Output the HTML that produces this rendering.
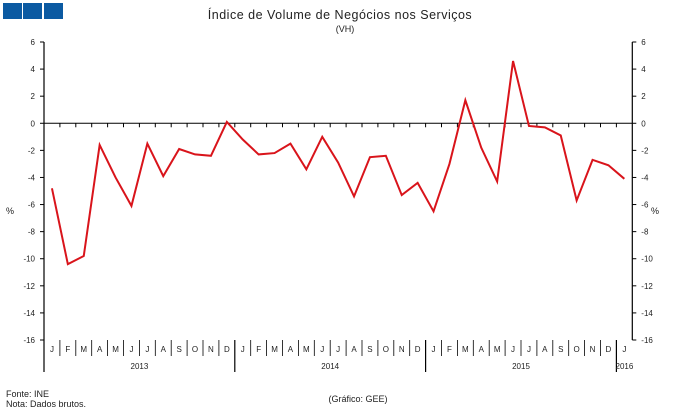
<!DOCTYPE html>
<html><head><meta charset="utf-8"><style>
body{margin:0;background:#fff;}
svg{display:block;font-family:"Liberation Sans",sans-serif;}
</style></head><body>
<svg id="c" width="679" height="414">
<rect x="3" y="3" width="19" height="16" fill="#0b5aa2"/>
<rect x="23" y="3" width="19" height="16" fill="#0b5aa2"/>
<rect x="44" y="3" width="19" height="16" fill="#0b5aa2"/>
<text x="340" y="19" text-anchor="middle" font-size="12.5" fill="#222" letter-spacing="0.5">Índice de Volume de Negócios nos Serviços</text>
<text x="345" y="32" text-anchor="middle" font-size="9" fill="#222">(VH)</text>
<text x="10" y="214" text-anchor="middle" font-size="9" fill="#222">%</text>
<text x="655" y="214" text-anchor="middle" font-size="9" fill="#222">%</text>
<text x="6" y="397" font-size="9" fill="#222">Fonte: INE</text>
<text x="6" y="407" font-size="9" fill="#222">Nota: Dados brutos.</text>
<text x="358" y="402" text-anchor="middle" font-size="9" fill="#222">(Gráfico: GEE)</text>
<g id="g"></g>
</svg>
<script>
const months=["J","F","M","A","M","J","J","A","S","O","N","D","J","F","M","A","M","J","J","A","S","O","N","D","J","F","M","A","M","J","J","A","S","O","N","D","J"];
const years=["2013","2014","2015","2016"];
const values=[-4.8,-10.4,-9.8,-1.6,-4.0,-6.1,-1.5,-3.9,-1.9,-2.3,-2.4,0.1,
-1.2,-2.3,-2.2,-1.5,-3.4,-1.0,-2.9,-5.4,-2.5,-2.4,-5.3,-4.4,
-6.5,-3.0,1.7,-1.8,-4.3,4.6,-0.2,-0.3,-0.9,-5.7,-2.7,-3.1,-4.1];
const yTicks=[6,4,2,0,-2,-4,-6,-8,-10,-12,-14,-16];
const NS="http://www.w3.org/2000/svg";
const g=document.getElementById("g");
const x0=44,step=15.9,yTop=42,yBot=340,yMax=6,yMin=-16;
const xs=i=>x0+step*(i+0.5);
const xb=i=>x0+step*i;
const ys=v=>yTop+(yMax-v)/(yMax-yMin)*(yBot-yTop);
function el(t,a){const e=document.createElementNS(NS,t);for(const k in a)e.setAttribute(k,a[k]);g.appendChild(e);return e;}
const xR=xb(months.length);
let e;
e=el("line",{x1:x0,y1:yTop,x2:x0,y2:372,stroke:"#000","stroke-width":1.2});


e=el("line",{x1:xR,y1:yTop,x2:xR,y2:yBot,stroke:"#000","stroke-width":1.2});


e=el("line",{x1:x0,y1:ys(0),x2:xR,y2:ys(0),stroke:"#000","stroke-width":1});


yTicks.forEach(v=>{
 const y=ys(v);
 let t=el("line",{x1:x0-4,y1:y,x2:x0,y2:y,stroke:"#000"});
 
 
 t=el("line",{x1:xR,y1:y,x2:xR+4,y2:y,stroke:"#000"});
 
 
 t=el("text",{x:x0-9,y:y+3,"text-anchor":"end","font-size":8,fill:"#222"});t.textContent=v;
 
 
 t=el("text",{x:xR+9,y:y+3,"font-size":8,fill:"#222"});t.textContent=v;
 
 
});
months.forEach((m,i)=>{
 let t=el("line",{x1:xb(i),y1:ys(0),x2:xb(i),y2:ys(0)+4,stroke:"#000"});
 
 
 if(i>0){const full=i%12===0;
  t=el("line",{x1:xb(i),y1:yBot,x2:xb(i),y2:full?372:356,stroke:"#000","stroke-width":full?1.2:0.8});
  
  }
 t=el("text",{x:xs(i),y:352,"text-anchor":"middle","font-size":8,fill:"#222"});t.textContent=m;
 
 
});
years.forEach((yv,k)=>{
 const a=k*12,b=Math.min(months.length,a+12);
 const t=el("text",{x:k===3?xb(a)+8:(xb(a)+xb(b))/2,y:369,"text-anchor":"middle","font-size":8,fill:"#222"});t.textContent=yv;
 
 
});
const p=el("polyline",{points:values.map((v,i)=>xs(i)+","+ys(v)).join(" "),fill:"none",stroke:"#d9141b","stroke-width":2});


</script>
</body></html>
